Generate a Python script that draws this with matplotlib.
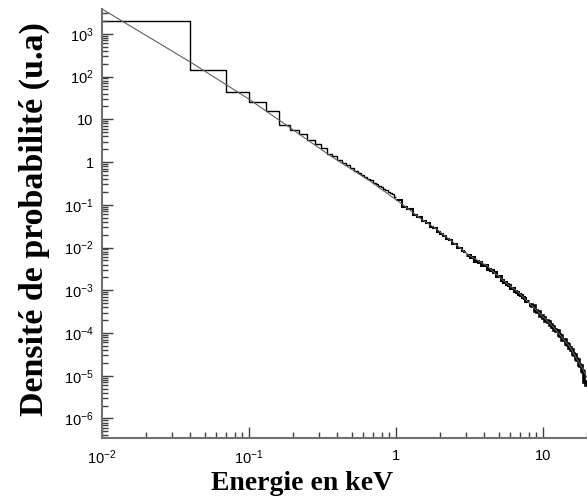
import numpy as np
import matplotlib
matplotlib.use("Agg")
import matplotlib.pyplot as plt
from matplotlib.ticker import LogLocator, FixedLocator, FuncFormatter, NullFormatter

# histogram (black steps): bin widths and values
# 0.01 -> 1.0 keV : bins of 0.03
hist_low = [2030, 141, 42.4, 25.7, 15.9, 7.5, 5.7,
            4.6, 3.3, 2.6, 2.1, 1.5, 1.35, 1.1, 0.95, 0.85, 0.72, 0.62,
            0.56, 0.50, 0.44, 0.40, 0.37, 0.32, 0.31, 0.27, 0.26, 0.23,
            0.22, 0.20, 0.19, 0.175, 0.15]
# 1 -> 3 keV : bins of 0.1
hist_mid = [0.13, 0.088, 0.078, 0.057, 0.052, 0.041, 0.038, 0.030, 0.029, 0.023,
            0.021, 0.019, 0.0155, 0.0150, 0.0124, 0.0119, 0.0100, 0.0097, 0.0083, 0.0079]
# 3 -> 8 keV : bins of 0.2
hist_high = [0.0066, 0.0060, 0.0049, 0.0047, 0.0039, 0.0039, 0.0032, 0.0030, 0.0027, 0.0022,
             0.0021, 0.0017, 0.0016, 0.0014, 0.00136, 0.00115, 0.00112, 0.00096, 0.00093,
             0.00082, 0.00079, 0.00068, 0.00066, 0.00057, 0.00055]
# 8 -> 20 keV : bins of 0.4
hist_tail = [4.6e-4, 4.2e-4, 3.3e-4, 3.1e-4, 2.5e-4, 2.3e-4, 1.9e-4, 1.8e-4, 1.5e-4, 1.4e-4,
             1.18e-4, 1.1e-4, 9.0e-5, 8.4e-5, 7.0e-5, 6.7e-5, 5.6e-5, 5.3e-5, 4.4e-5, 4.1e-5,
             3.3e-5, 3.0e-5, 2.4e-5, 2.3e-5, 1.8e-5, 1.7e-5, 1.3e-5, 1.2e-5, 7.0e-6, 6.0e-6]

# smooth curve (thin grey line)
fit_E = [0.01, 0.04, 0.1, 0.356, 0.665, 1.12, 1.456, 1.89, 3.19, 4.14, 5.37,
         6.98, 9.06, 11.75, 15.27, 18.8, 20.0]
fit_v = [3800, 217, 29.6, 1.42, 0.361, 0.100, 0.049, 0.027, 0.0064, 0.0038, 0.0017,
         8.3e-4, 3.4e-4, 1.4e-4, 4.8e-5, 1.4e-5, 9e-6]

# labelled decades
x_ticks = [0.01, 0.1, 1, 10]
y_ticks = [1e-6, 1e-5, 1e-4, 1e-3, 1e-2, 1e-1, 1, 10, 100, 1000]


def main():
    plt.rcParams['font.family'] = ['Liberation Sans', 'DejaVu Sans']
    plt.rcParams['mathtext.default'] = 'regular'

    fig = plt.figure(figsize=(5.87, 4.99), dpi=100)
    ax = fig.add_axes([0.1738, 0.1228, 0.8262, 0.8592])

    # each part of the histogram with its own bin width, thicker where noisy
    start = 0.01
    for vals, w, lw in [(hist_low, 0.03, 1.0), (hist_mid, 0.1, 1.5),
                        (hist_high, 0.2, 2.2), (hist_tail, 0.4, 2.6)]:
        edges = [start]
        for _ in vals:
            edges.append(round(edges[-1] + w, 4))
        ax.stairs(vals, edges, baseline=None, color='black', lw=lw)
        start = edges[-1]

    ax.plot(fit_E, fit_v, color='#606060', lw=0.8)

    ax.set_xscale('log')
    ax.set_yscale('log')
    ax.set_xlim(0.01, 20)
    ax.set_ylim(10 ** -6.45, 10 ** 3.58)

    def fmt(v, pos):
        e = int(round(np.log10(v)))
        if e == 0:
            return '1'
        if e == 1:
            return '10'
        return r'$10^{%d}$' % e

    for axis, ticks in ((ax.xaxis, x_ticks), (ax.yaxis, y_ticks)):
        axis.set_major_locator(FixedLocator(ticks))
        axis.set_minor_locator(LogLocator(base=10, subs=np.arange(2, 10), numticks=20))
        axis.set_major_formatter(FuncFormatter(fmt))
        axis.set_minor_formatter(NullFormatter())

    for s in ['top', 'right']:
        ax.spines[s].set_visible(False)
    for s in ['left', 'bottom']:
        ax.spines[s].set_color('#707070')
        ax.spines[s].set_linewidth(1.5)

    ax.tick_params(which='both', direction='in', color='#404040', labelsize=10.5)
    ax.tick_params(which='major', length=8, width=1)
    ax.tick_params(which='minor', length=4, width=1)
    ax.tick_params(axis='x', pad=8)
    ax.tick_params(axis='y', pad=6)

    fig.text(0.515, 0.032, 'Energie en keV', ha='center', va='center',
             family='Liberation Serif', weight='bold', fontsize=20)
    fig.text(0.058, 0.56, 'Densité de probabilité (u.a)', ha='center', va='center',
             rotation=90, family='Liberation Serif', weight='bold', fontsize=24.5)

    fig.savefig('out.png', dpi=100)


if __name__ == '__main__':
    main()
